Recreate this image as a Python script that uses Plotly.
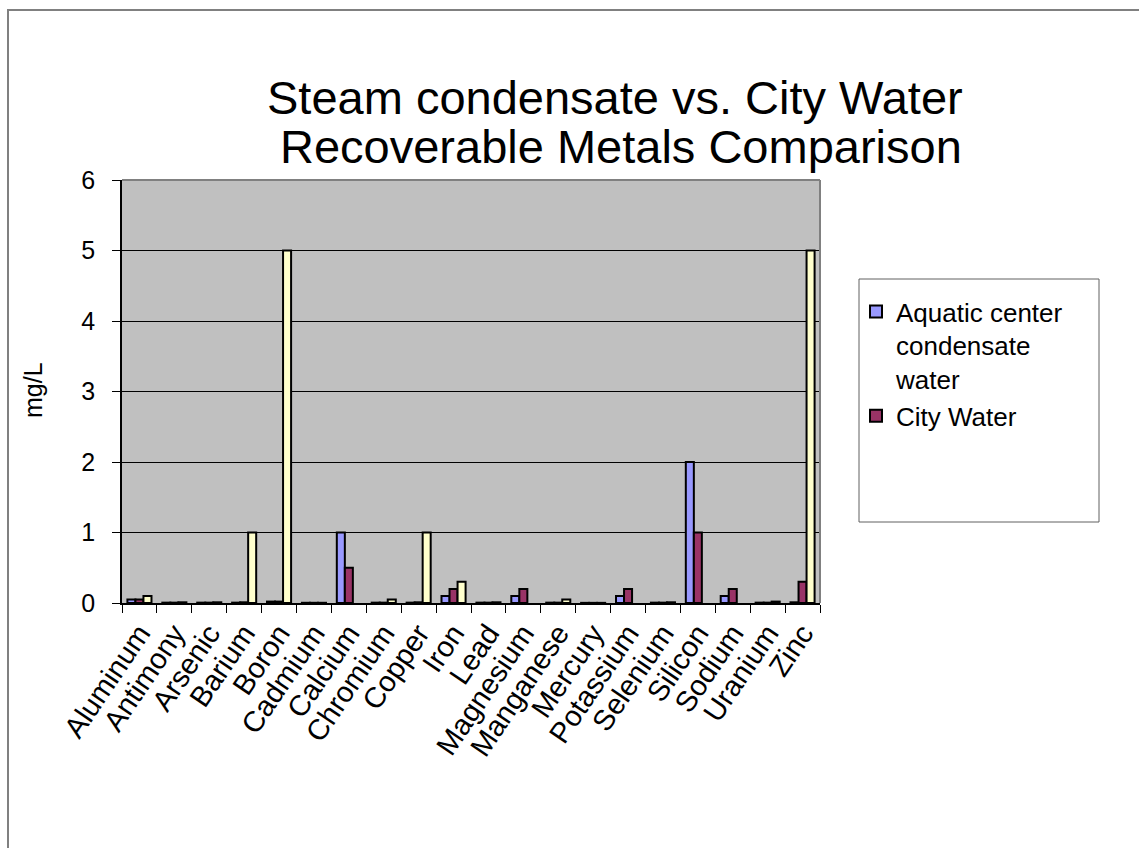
import plotly.graph_objects as go

# Recoverable metals, mg/L
metals = ["Aluminum", "Antimony", "Arsenic", "Barium", "Boron", "Cadmium", "Calcium",
          "Chromium", "Copper", "Iron", "Lead", "Magnesium", "Manganese", "Mercury",
          "Potassium", "Selenium", "Silicon", "Sodium", "Uranium", "Zinc"]
condensate = [0.05, 0.005, 0.005, 0.005, 0.02, 0.003, 1.0, 0.005, 0.005, 0.1,
              0.005, 0.1, 0.005, 0.002, 0.1, 0.005, 2.0, 0.1, 0.005, 0.01]
city_water = [0.05, 0.005, 0.005, 0.01, 0.02, 0.003, 0.5, 0.005, 0.01, 0.2,
              0.005, 0.2, 0.005, 0.002, 0.2, 0.005, 1.0, 0.2, 0.005, 0.3]
series3 = [0.1, 0.01, 0.01, 1.0, 5.0, 0.003, None, 0.05, 1.0, 0.3,
           0.01, None, 0.05, 0.002, None, 0.01, None, None, 0.02, 5.0]

FONT = "Liberation Sans, Arial, sans-serif"
edge = dict(color="black", width=2)

fig = go.Figure()
fig.add_trace(go.Bar(x=metals, y=condensate, name="Aquatic center<br>condensate<br>water",
                     marker=dict(color="#9999FF", line=edge), legendgroup="a"))
fig.add_trace(go.Bar(x=metals, y=city_water, name="City Water",
                     marker=dict(color="#993366", line=edge), legendgroup="b"))
fig.add_trace(go.Bar(x=metals, y=series3, name="Series3", showlegend=False,
                     marker=dict(color="#FFFFCC", line=edge), legendgroup="c"))

L, R, T, B = 122, 319, 180, 245
W, H = 1139, 848
pw, ph = W - L - R, H - T - B


def px(x):
    return (x - L) / pw


def py(y):
    return (H - B - y) / ph


fig.update_layout(
    width=W, height=H,
    margin=dict(l=L, r=R, t=T, b=B, autoexpand=False),
    paper_bgcolor="white",
    plot_bgcolor="#C0C0C0",
    font=dict(family=FONT, size=25, color="black"),
    barmode="group",
    bargap=0.31,
    bargroupgap=0,
    showlegend=True,
    legend=dict(x=px(856), y=py(288), xanchor="left", yanchor="top",
                font=dict(size=26, family=FONT), bgcolor="rgba(0,0,0,0)",
                valign="top", tracegroupgap=34, traceorder="normal"),
    xaxis=dict(showline=True, linecolor="black", linewidth=1.5,
               ticks="outside", ticklen=8, tickcolor="black", tickson="boundaries",
               tickmode="linear", tick0=0, dtick=1,
               tickangle=-56, tickfont=dict(size=29), showgrid=False),
    yaxis=dict(range=[0, 6], dtick=1, showline=True, linecolor="black", linewidth=1.5,
               ticks="outside", ticklen=8, tickcolor="black",
               showgrid=True, gridcolor="black", gridwidth=1,
               tickfont=dict(size=25), ticklabelstandoff=12, zeroline=False),
    shapes=[
        # plot-area frame (top and right)
        dict(type="line", xref="paper", yref="paper", x0=0, x1=1, y0=1, y1=1,
             line=dict(color="#808080", width=2)),
        dict(type="line", xref="paper", yref="paper", x0=1, x1=1, y0=0, y1=1,
             line=dict(color="#808080", width=2)),
        # legend box
        dict(type="rect", xref="paper", yref="paper",
             x0=px(859), x1=px(1099), y0=py(522), y1=py(279),
             line=dict(color="#606060", width=1), fillcolor="rgba(0,0,0,0)"),
        # chart frame
        dict(type="rect", xref="paper", yref="paper",
             x0=px(8), x1=px(1150), y0=py(870), y1=py(10),
             line=dict(color="#808080", width=2), fillcolor="rgba(0,0,0,0)"),
    ],
    annotations=[
        dict(text="Steam condensate vs. City Water", xref="paper", yref="paper",
             x=px(615), y=py(97), showarrow=False, xanchor="center", yanchor="middle",
             font=dict(size=47, family=FONT)),
        dict(text="Recoverable Metals Comparison", xref="paper", yref="paper",
             x=px(621), y=py(146), showarrow=False, xanchor="center", yanchor="middle",
             font=dict(size=47, family=FONT)),
        dict(text="mg/L", xref="paper", yref="paper", x=px(33), y=py(390),
             showarrow=False, textangle=-90, xanchor="center", yanchor="middle",
             font=dict(size=25, family=FONT)),
    ],
)

fig.write_html("out.html")
